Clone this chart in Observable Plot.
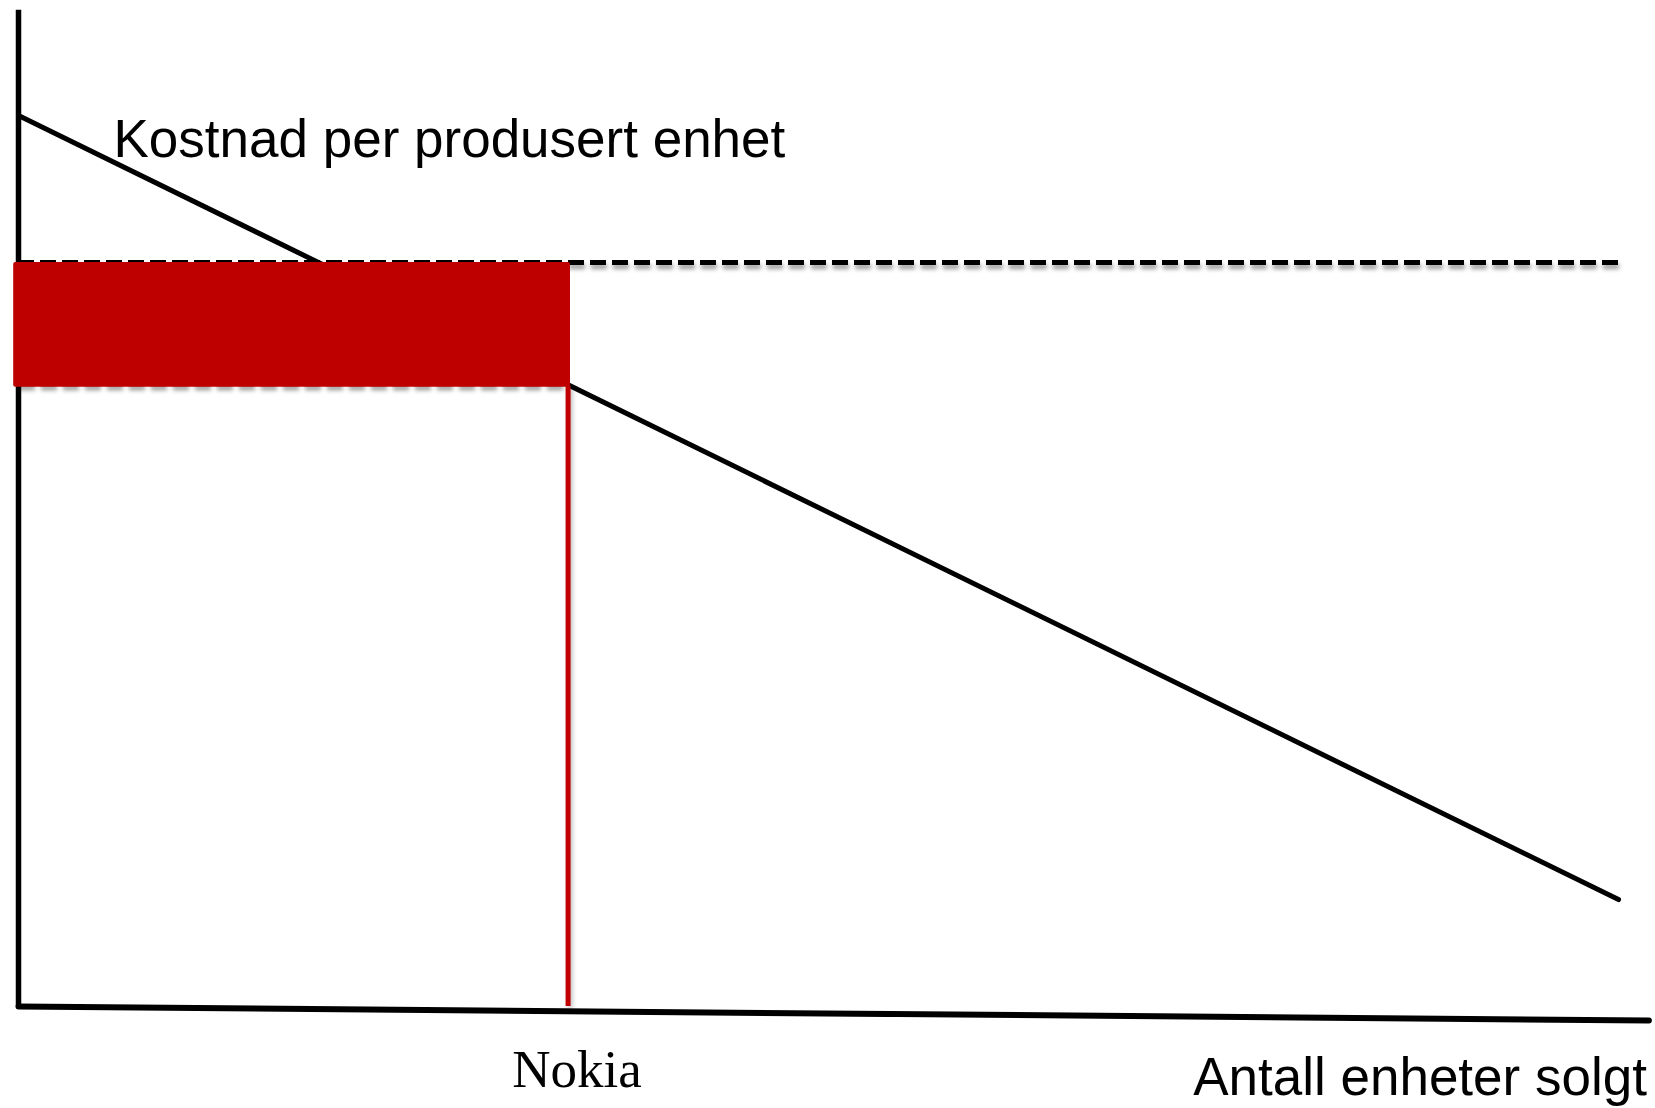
<!DOCTYPE html>
<html><head><meta charset="utf-8">
<script src="https://cdn.jsdelivr.net/npm/d3@7"></script>
<script src="https://cdn.jsdelivr.net/npm/@observablehq/plot@0.6"></script>
<style>body{margin:0;background:#fff}#chart svg{display:block}</style>
</head><body><div id="chart"></div>
<script>
// Data (arbitrary units: units sold 0–100, cost 0–100)
const costLine = [{units: 0, cost: 100}, {units: 100, cost: 12}];
const xAxisLine = [{units: 0, cost: 0}, {units: 101.9, cost: -1.57}];
const yAxisTop = 111.8;
const nokiaUnits = 34.35;
const nokiaCost = 69.6;
const price = 83.5;
const lowerDashLevel = 69.9;
const rectLeft = -0.3;
const rectRight = 34.5;
const rectBottom = 69.5;
const labels = ["Kostnad per produsert enhet", "Nokia", "Antall enheter solgt"];

const dashed = {stroke: "black", strokeWidth: 5, strokeDasharray: "16,6"};

const chart = Plot.plot({
  width: 1655,
  height: 1108,
  x: {domain: [0, 100], range: [18, 1618], axis: null},
  y: {domain: [0, 100], range: [1006, 115], axis: null},
  style: {fontFamily: "'Liberation Sans', Arial, sans-serif", background: "white", overflow: "visible"},
  marks: [
    // axes
    Plot.ruleX([0], {y1: 0, y2: yAxisTop, stroke: "black", strokeWidth: 5.5}),
    Plot.line(xAxisLine, {x: "units", y: "cost", stroke: "black", strokeWidth: 6}),
    // cost curve
    Plot.line(costLine, {x: "units", y: "cost", stroke: "black", strokeWidth: 5}),
    // price (dashed)
    Plot.ruleY([price], {x1: 0, x2: 100, ...dashed}),
    Plot.ruleY([lowerDashLevel], {x1: 0, x2: nokiaUnits, ...dashed}),
    // Nokia volume
    Plot.ruleX([nokiaUnits], {y1: 0, y2: nokiaCost, stroke: "#c00000", strokeWidth: 5}),
    // profit area
    Plot.rect([{x1: rectLeft, x2: rectRight, y1: rectBottom, y2: price}], {x1: "x1", x2: "x2", y1: "y1", y2: "y2", fill: "#bf0000", rx: 2}),
    // labels
    Plot.text([labels[0]], {x: costLine[0].units, y: costLine[0].cost, text: d => d, textAnchor: "start", lineAnchor: "middle", dx: 95, dy: 25, fontSize: 53, fill: "black"}),
    Plot.text([labels[1]], {x: nokiaUnits, y: 0, text: d => d, textAnchor: "middle", lineAnchor: "middle", dx: 9, dy: 64, fontSize: 53, fill: "black", fontFamily: "'Liberation Serif', 'Times New Roman', serif"}),
    Plot.text([labels[2]], {x: xAxisLine[1].units, y: xAxisLine[1].cost, text: d => d, textAnchor: "end", lineAnchor: "middle", dx: -2, dy: 58, fontSize: 53, fill: "black"})
  ]
});

const svg = d3.select(chart);
svg.selectAll("g[stroke-dasharray]").style("filter", "drop-shadow(1px 4px 2px rgba(0,0,0,0.4))");
svg.selectAll('g[stroke="#c00000"]').style("filter", "drop-shadow(2px 2px 2px rgba(0,0,0,0.25))");
document.getElementById("chart").appendChild(chart);
</script>
</body></html>
